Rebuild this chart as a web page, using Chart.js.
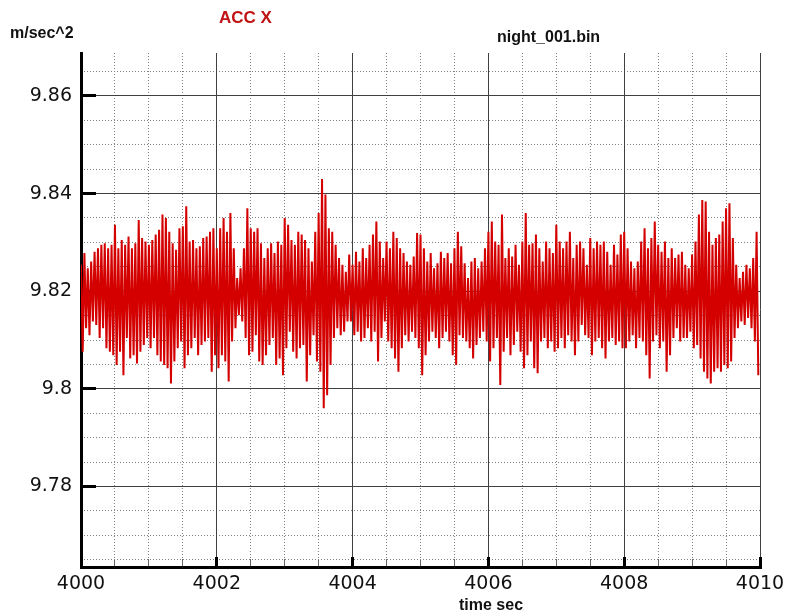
<!DOCTYPE html>
<html>
<head>
<meta charset="utf-8">
<script src="https://cdn.jsdelivr.net/npm/chart.js@4.4.1/dist/chart.umd.min.js"></script>
<style>
  html, body { margin: 0; padding: 0; background: #fff; }
  #wrap { position: relative; width: 788px; height: 613px; overflow: hidden; }
  #chart { position: absolute; left: 0; top: 0; }
  .lbl { position: absolute; font: bold 16px 'Liberation Sans', Arial, sans-serif; line-height: 18px; white-space: nowrap; color: #111; }
</style>
</head>
<body>
<div id="wrap">
  <canvas id="chart" width="788" height="613"></canvas>
  <div class="lbl" style="left:10px;top:24px;">m/sec^2</div>
  <div class="lbl" style="left:219px;top:9px;font-size:17px;color:#c01414;">ACC X</div>
  <div class="lbl" style="left:497px;top:28px;">night_001.bin</div>
  <div class="lbl" style="left:459px;top:596px;">time sec</div>
</div>
<script>
'use strict';

// sample grid of the trace: one max + one min per step
const startTime = 4000;
const sampleStep = 0.05;

// upper envelope (one row per second)
const hi = [
  9.8254, 9.8278, 9.8247, 9.8261, 9.8281, 9.8288, 9.8295, 9.8298, 9.8288, 9.8295, 9.8336, 9.8288, 9.8305, 9.8295, 9.8312, 9.8288, 9.8298, 9.8346, 9.8309, 9.8302,
  9.8295, 9.8305, 9.8316, 9.8326, 9.8357, 9.8350, 9.8322, 9.8298, 9.8285, 9.8329, 9.8333, 9.8374, 9.8302, 9.8305, 9.8288, 9.8292, 9.8309, 9.8312, 9.8322, 9.8329,
  9.8288, 9.8329, 9.8350, 9.8322, 9.8360, 9.8288, 9.8227, 9.8247, 9.8288, 9.8370, 9.8329, 9.8322, 9.8329, 9.8298, 9.8268, 9.8288, 9.8298, 9.8278, 9.8302, 9.8295,
  9.8350, 9.8336, 9.8305, 9.8295, 9.8322, 9.8316, 9.8305, 9.8288, 9.8261, 9.8322, 9.8360, 9.8430, 9.8398, 9.8329, 9.8322, 9.8295, 9.8268, 9.8254, 9.8240, 9.8275,
  9.8254, 9.8281, 9.8261, 9.8288, 9.8268, 9.8295, 9.8316, 9.8343, 9.8302, 9.8268, 9.8302, 9.8288, 9.8322, 9.8309, 9.8288, 9.8278, 9.8261, 9.8254, 9.8271, 9.8319,
  9.8316, 9.8288, 9.8261, 9.8278, 9.8247, 9.8257, 9.8281, 9.8268, 9.8278, 9.8257, 9.8288, 9.8322, 9.8292, 9.8257, 9.8227, 9.8261, 9.8268, 9.8247, 9.8261, 9.8288,
  9.8322, 9.8343, 9.8302, 9.8295, 9.8357, 9.8268, 9.8288, 9.8271, 9.8295, 9.8254, 9.8302, 9.8360, 9.8295, 9.8298, 9.8316, 9.8288, 9.8261, 9.8302, 9.8288, 9.8278,
  9.8336, 9.8302, 9.8288, 9.8302, 9.8322, 9.8268, 9.8295, 9.8302, 9.8288, 9.8254, 9.8309, 9.8288, 9.8302, 9.8295, 9.8302, 9.8281, 9.8254, 9.8295, 9.8275, 9.8316,
  9.8322, 9.8288, 9.8261, 9.8247, 9.8261, 9.8302, 9.8329, 9.8288, 9.8309, 9.8343, 9.8295, 9.8281, 9.8302, 9.8268, 9.8288, 9.8268, 9.8275, 9.8281, 9.8254, 9.8247,
  9.8275, 9.8302, 9.8357, 9.8387, 9.8384, 9.8322, 9.8295, 9.8309, 9.8316, 9.8343, 9.8370, 9.8380, 9.8309, 9.8254, 9.8227, 9.8240, 9.8254, 9.8247, 9.8268, 9.8322
];

// lower envelope, same steps
const lo = [
  9.8076, 9.8124, 9.8110, 9.8138, 9.8131, 9.8104, 9.8124, 9.8083, 9.8076, 9.8069, 9.8049, 9.8076, 9.8028, 9.8104, 9.8062, 9.8069, 9.8052, 9.8076, 9.8090, 9.8104,
  9.8083, 9.8104, 9.8069, 9.8056, 9.8049, 9.8042, 9.8011, 9.8056, 9.8083, 9.8097, 9.8042, 9.8069, 9.8083, 9.8104, 9.8069, 9.8090, 9.8097, 9.8104, 9.8035, 9.8069,
  9.8042, 9.8069, 9.8056, 9.8015, 9.8097, 9.8124, 9.8151, 9.8138, 9.8104, 9.8069, 9.8076, 9.8110, 9.8056, 9.8049, 9.8069, 9.8090, 9.8104, 9.8049, 9.8062, 9.8028,
  9.8083, 9.8117, 9.8076, 9.8062, 9.8083, 9.8090, 9.8015, 9.8069, 9.8110, 9.8056, 9.8035, 9.7960, 9.7987, 9.8049, 9.8104, 9.8124, 9.8110, 9.8117, 9.8138, 9.8138,
  9.8110, 9.8117, 9.8097, 9.8104, 9.8124, 9.8097, 9.8117, 9.8056, 9.8104, 9.8138, 9.8097, 9.8083, 9.8062, 9.8035, 9.8083, 9.8110, 9.8097, 9.8117, 9.8104, 9.8083,
  9.8028, 9.8069, 9.8097, 9.8117, 9.8104, 9.8083, 9.8104, 9.8117, 9.8097, 9.8069, 9.8049, 9.8110, 9.8104, 9.8097, 9.8083, 9.8062, 9.8090, 9.8104, 9.8117, 9.8097,
  9.8056, 9.8083, 9.8104, 9.8008, 9.8076, 9.8104, 9.8069, 9.8090, 9.8117, 9.8076, 9.8042, 9.8069, 9.8097, 9.8042, 9.8032, 9.8097, 9.8104, 9.8083, 9.8097, 9.8076,
  9.8083, 9.8104, 9.8083, 9.8110, 9.8097, 9.8069, 9.8097, 9.8131, 9.8110, 9.8104, 9.8069, 9.8097, 9.8104, 9.8083, 9.8062, 9.8097, 9.8104, 9.8090, 9.8097, 9.8083,
  9.8083, 9.8097, 9.8110, 9.8083, 9.8104, 9.8097, 9.8069, 9.8021, 9.8097, 9.8110, 9.8083, 9.8097, 9.8035, 9.8069, 9.8104, 9.8124, 9.8097, 9.8104, 9.8104, 9.8117,
  9.8083, 9.8090, 9.8062, 9.8035, 9.8021, 9.8011, 9.8035, 9.8042, 9.8035, 9.8049, 9.8042, 9.8056, 9.8104, 9.8124, 9.8138, 9.8131, 9.8145, 9.8124, 9.8097, 9.8028
];

// axes
const xRange = [4000, 4010];
const yRange = [9.7635, 9.8688];
const xTicks = [4000, 4002, 4004, 4006, 4008, 4010];
const yTicks = [9.78, 9.8, 9.82, 9.84, 9.86];
const xMinorTicks = [4000.5, 4001, 4001.5, 4002.5, 4003, 4003.5, 4004.5, 4005, 4005.5, 4006.5, 4007, 4007.5, 4008.5, 4009, 4009.5];
const yMinorTicks = [9.765, 9.77, 9.775, 9.785, 9.79, 9.795, 9.805, 9.81, 9.815, 9.825, 9.83, 9.835, 9.845, 9.85, 9.855, 9.865];

// max/min pairs -> one trace
const signal = [];
hi.forEach((v, i) => {
  const t = startTime + i * sampleStep;
  signal.push({ x: t, y: v }, { x: t + sampleStep / 2, y: lo[i] });
});

const fixedTicks = values => scale => { scale.ticks = values.map(v => ({ value: v })); };
const noOverhang = size => scale => {
  if (scale.isHorizontal()) scale.height = size; else scale.width = size;
  scale.paddingLeft = scale.paddingRight = scale.paddingTop = scale.paddingBottom = 0;
};
const tickFont = { family: "'DejaVu Sans', sans-serif", size: 19 };

new Chart(document.getElementById('chart'), {
  type: 'line',
  data: {
    datasets: [{
      label: 'ACC X',
      data: signal,
      borderColor: '#d40000',
      borderWidth: 2,
      pointRadius: 0,
      tension: 0,
      xAxisID: 'x',
      yAxisID: 'y'
    }]
  },
  options: {
    responsive: false, animation: false, devicePixelRatio: 1,
    layout: { padding: { left: 0, top: 53, right: 28, bottom: 0 } },
    plugins: { legend: { display: false }, tooltip: { enabled: false } },
    scales: {
      xMinor: {
        type: 'linear', position: 'bottom', weight: -1, min: xRange[0], max: xRange[1],
        afterBuildTicks: fixedTicks(xMinorTicks),
        afterFit: noOverhang(0),
        ticks: { display: false },
        grid: { color: '#808080', lineWidth: 1, drawTicks: true, tickLength: -8, tickColor: '#666', tickWidth: 1 },
        border: { display: false, dash: [1, 2] }
      },
      yMinor: {
        type: 'linear', position: 'left', weight: -1, min: yRange[0], max: yRange[1],
        afterBuildTicks: fixedTicks(yMinorTicks),
        afterFit: noOverhang(0),
        ticks: { display: false },
        grid: { color: '#808080', lineWidth: 1, drawTicks: false },
        border: { display: false, dash: [1, 2] }
      },
      x: {
        type: 'linear', position: 'bottom', weight: 0, min: xRange[0], max: xRange[1],
        afterBuildTicks: fixedTicks(xTicks),
        afterFit: noOverhang(46),
        ticks: { color: '#111', font: tickFont, padding: 16, maxRotation: 0, autoSkip: false, callback: v => String(v) },
        grid: { color: '#404040', lineWidth: 1, tickLength: -10, tickWidth: 3, tickColor: '#000' },
        border: { display: true, color: '#000', width: 3 }
      },
      y: {
        type: 'linear', position: 'left', weight: 0, min: yRange[0], max: yRange[1],
        afterBuildTicks: fixedTicks(yTicks),
        afterFit: noOverhang(81),
        ticks: { color: '#111', font: tickFont, padding: 24, autoSkip: false, callback: v => String(v) },
        grid: { color: '#404040', lineWidth: 1, tickLength: -15, tickWidth: 3, tickColor: '#000' },
        border: { display: true, color: '#000', width: 3 }
      }
    }
  }
});
</script>
</body>
</html>
